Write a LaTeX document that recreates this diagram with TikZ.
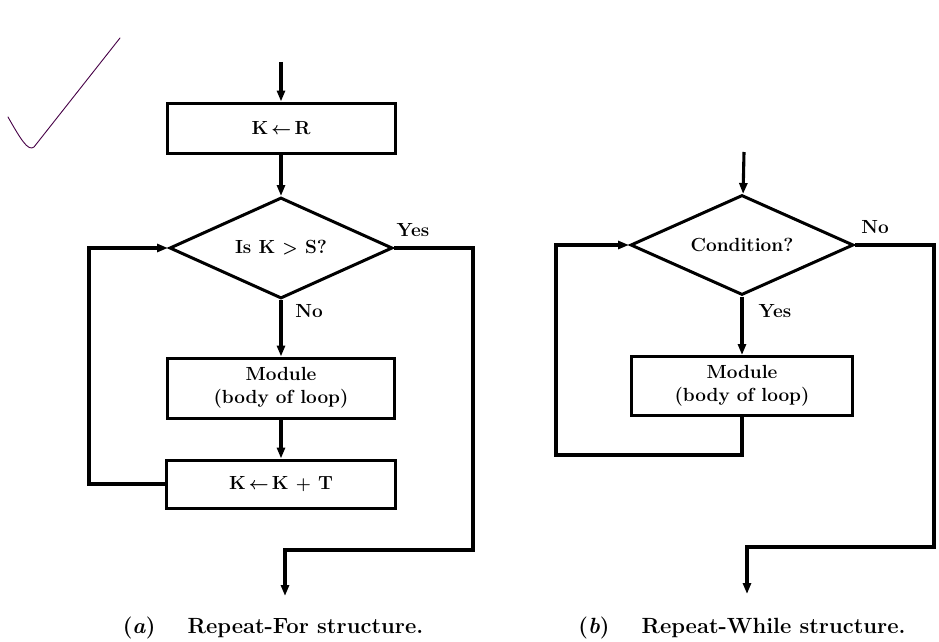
\documentclass[tikz,border=0pt]{standalone}
\usepackage{fontspec}
\usetikzlibrary{shapes.geometric,arrows.meta}

\tikzset{
  flow/.style={line width=3.1pt},
  arr/.style={flow,-{Triangle[length=11pt,width=8pt]}},
  chartfont/.style={font=\fontsize{19}{23}\selectfont\bfseries\boldmath},
  procbox/.style={draw,rectangle,line width=3pt,inner sep=0pt,align=center,chartfont},
  testbox/.style={draw,diamond,aspect=2.2,line width=3pt,inner sep=0pt,minimum width=223pt,minimum height=101pt,chartfont},
  edgelbl/.style={chartfont},
  captext/.style={font=\fontsize{22}{26}\selectfont\bfseries},
  checkpen/.style={line width=0.9pt,color=violet!55!black,line cap=round}
}

\begin{document}
\begin{tikzpicture}[x=1pt,y=-1pt]
	%%%%% START %%%%%
	\useasboundingbox (0,0) rectangle (939,642);

	% check mark
	\draw[checkpen] (8,117) .. controls (20,138) and (28,152) .. (34,147) -- (120,38);

	% (a) Repeat-For
	\coordinate (ina) at (281,62);
	\node[procbox, minimum width=228pt, minimum height=50pt] (kr) at (281,128) {K\,$\leftarrow$\,R};
	\node[testbox] (testk) at (281,248) {Is K $>$ S?};
	\node[procbox, minimum width=227pt, minimum height=60pt] (modl) at (281,388) {Module\\(body of loop)};
	\node[procbox, minimum width=229pt, minimum height=48pt] (kinc) at (281,484) {K\,$\leftarrow$\,K $+$ T};
	\coordinate (loopa) at (89,484);
	\coordinate (yesa) at (473,550);
	\coordinate (outa) at (285,596);

	\draw[arr] (ina) -- (kr);
	\draw[arr] (kr) -- (testk);
	\draw[arr] (testk) -- (modl);
	\draw[arr] (modl) -- (kinc);
	\draw[arr] (kinc.west) -- (loopa) |- (testk.west);
	\draw[arr] (testk.east) -| (yesa) -| (outa);

	\node[edgelbl] (yeslbla) at (413,230) {Yes};
	\node[edgelbl] (nolbla) at (309,311) {No};
	\node[captext] (capa) at (273,628) {(\textit{a})\hspace{32pt}Repeat-For structure.};

	% (b) Repeat-While
	\coordinate (inb) at (744,152);
	\node[testbox, minimum height=100pt] (cond) at (742,245) {Condition?};
	\node[procbox, minimum width=221pt, minimum height=59pt] (modr) at (742,386) {Module\\(body of loop)};
	\coordinate (loopb) at (556,455);
	\coordinate (nob) at (934,547);
	\coordinate (outb) at (747,594);

	\draw[arr] (inb) -- (cond);
	\draw[arr] (cond) -- (modr);
	\draw[arr] (modr.south) |- (loopb) |- (cond.west);
	\draw[arr] (cond.east) -| (nob) -| (outb);

	\node[edgelbl] (nolblb) at (875,227) {No};
	\node[edgelbl] (yeslblb) at (775,311) {Yes};
	\node[captext] (capb) at (742,628) {(\textit{b})\hspace{32pt}Repeat-While structure.};
	%%%%% END %%%%%
\end{tikzpicture}
\end{document}
